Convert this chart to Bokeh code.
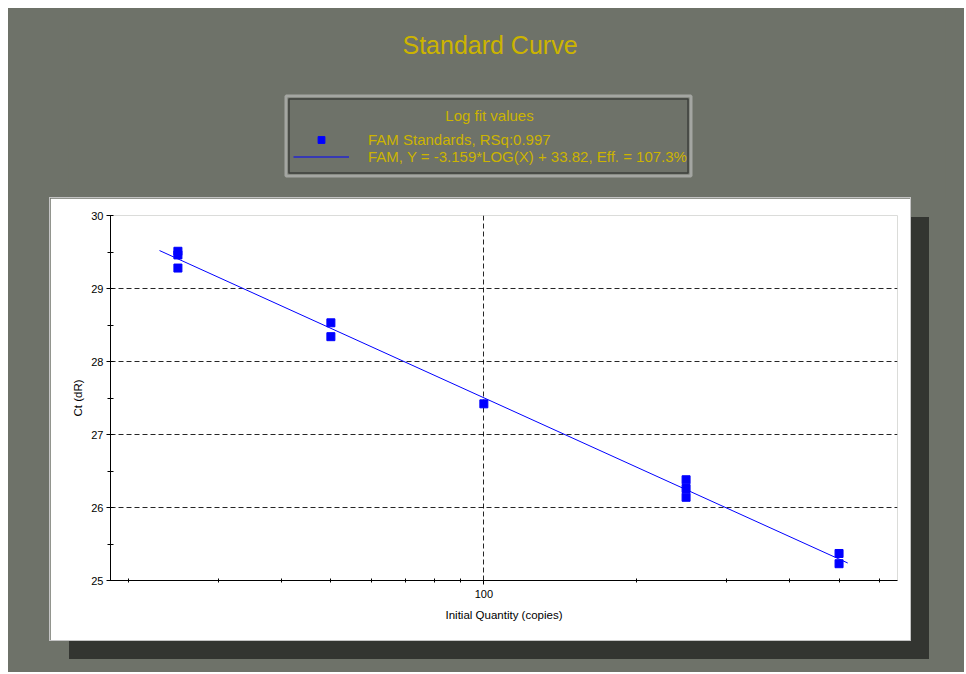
from bokeh.plotting import figure
from bokeh.layouts import column
from bokeh.models import (Label, Legend, LegendItem, Range1d,
                          SingleIntervalTicker, FixedTicker, PrintfTickFormatter)
from bokeh.embed import file_html
from bokeh.resources import INLINE

# ---- data ----
quantity = [25, 25, 25, 50, 50, 100, 250, 250, 250, 500, 500]
ct_values = [29.51, 29.46, 29.28, 28.53, 28.34, 27.42, 26.38, 26.26, 26.14, 25.37, 25.23]
fit_quantity = [23, 520]
fit_ct = [29.52, 25.24]
x_major_ticks = [100]
x_minor_ticks = [20, 30, 40, 50, 60, 70, 80, 90, 200, 300, 400, 500, 600]
title_text = "Standard Curve"
legend_title = "Log fit values"
series_labels = ["FAM Standards, RSq:0.997",
                 "FAM, Y = -3.159*LOG(X) + 33.82, Eff. = 107.3%"]
x_label = "Initial Quantity (copies)"
y_label = "Ct (dR)"

# ---- style ----
BG = "#6e7269"
GOLD = "#ccb400"
SHADOW = "#333531"
BLUE = "#0000ff"
FONT = "Liberation Sans"
NAN = float("nan")

BL, BR = 60, 13          # left / right borders shared by both figures

# ---------- header: title + legend (gray area) ----------
HW, HH = 950, 190
head = figure(width=HW, height=HH, x_range=Range1d(BL, HW - BR), y_range=Range1d(HH, 0),
              output_backend="svg", toolbar_location=None,
              x_axis_location=None, y_axis_location=None,
              min_border=0, min_border_left=BL, min_border_right=BR,
              border_fill_color=BG, background_fill_color=BG,
              outline_line_color=None)
head.xgrid.visible = False
head.ygrid.visible = False

# bevelled legend box
head.quad(left=[277.5], right=[682.5], top=[87.5], bottom=[167.5],
          fill_color=BG, line_color="#a4a6a2", line_width=3)
head.quad(left=[280.5], right=[679.5], top=[90.5], bottom=[164.5],
          fill_alpha=0, line_color="#3e403c", line_width=1.5)

head.add_layout(Label(x=481.5, y=36, text=title_text,
                      text_align="center", text_baseline="middle",
                      text_font=FONT, text_font_size="25px", text_color=GOLD))
head.add_layout(Label(x=481, y=107, text=legend_title,
                      text_align="center", text_baseline="middle",
                      text_font=FONT, text_font_size="15px", text_color=GOLD))

# legend entries (same glyph styles as the chart's series)
proxy_pts = head.scatter(x=[NAN], y=[NAN], marker="square", size=8,
                         fill_color=BLUE, line_color=BLUE)
proxy_fit = head.line(x=[NAN, NAN], y=[NAN, NAN], line_color=BLUE, line_width=1)
legend = Legend(items=[LegendItem(label=series_labels[0], renderers=[proxy_pts]),
                       LegendItem(label=series_labels[1], renderers=[proxy_fit])],
                location=(285 - BL, HH - 156.5),
                background_fill_alpha=0, border_line_alpha=0,
                padding=0, margin=0, spacing=0,
                glyph_width=56, glyph_height=17, label_height=17,
                label_standoff=19, label_text_font=FONT,
                label_text_font_size="15px", label_text_color=GOLD)
head.add_layout(legend)

# ---------- chart panel (white) ----------
PW, PH = 860, 442
p = figure(width=PW, height=PH, x_axis_type="log",
           x_range=(18.42, 651.6), y_range=(25, 30),
           output_backend="svg", toolbar_location=None,
           min_border_left=BL, min_border_top=17,
           min_border_right=BR, min_border_bottom=60,
           border_fill_color="white", background_fill_color="white",
           outline_line_color=None, margin=(0, 0, 0, 42),
           styles={"box-shadow": "19px 19px 0 0 " + SHADOW,
                   "outline": "1px solid #c4c4c4"})

p.yaxis.ticker = SingleIntervalTicker(interval=1, num_minor_ticks=2)
p.xaxis.ticker = FixedTicker(ticks=x_major_ticks, minor_ticks=x_minor_ticks)
p.xaxis.formatter = PrintfTickFormatter(format="%d")
p.xgrid.ticker = FixedTicker(ticks=x_major_ticks)
for ax in (p.xaxis[0], p.yaxis[0]):
    ax.axis_line_color = "black"
    ax.major_tick_line_color = "black"
    ax.minor_tick_line_color = "black"
    ax.major_tick_in = 0
    ax.major_tick_out = 4
    ax.major_label_text_font = FONT
    ax.major_label_text_font_size = "11px"
    ax.major_label_text_color = "black"
    ax.axis_label_text_font = FONT
    ax.axis_label_text_font_size = "11.5px"
    ax.axis_label_text_font_style = "normal"
    ax.axis_label_text_color = "black"
p.xaxis.minor_tick_in = 2
p.xaxis.minor_tick_out = 2
p.yaxis.minor_tick_in = 3
p.yaxis.minor_tick_out = 3
p.xaxis.major_label_standoff = 5
p.yaxis.major_label_standoff = 3
p.xaxis.axis_label_standoff = 8
p.yaxis.axis_label_standoff = 4
p.xaxis.axis_label = x_label
p.yaxis.axis_label = y_label

for g in (p.xgrid[0], p.ygrid[0]):
    g.grid_line_color = "black"
    g.grid_line_dash = "5 3"
    g.grid_line_width = 1
    g.grid_line_alpha = 0.85

ln = p.line(fit_quantity, fit_ct, line_color=BLUE, line_width=1)
sc = p.scatter(quantity, ct_values, marker="square", size=8,
               fill_color=BLUE, line_color=BLUE)

layout = column(head, p, spacing=0, width=956, height=664, margin=(8, 0, 0, 8),
                styles={"background-color": BG})

open("out.html", "w").write(file_html(layout, INLINE))
